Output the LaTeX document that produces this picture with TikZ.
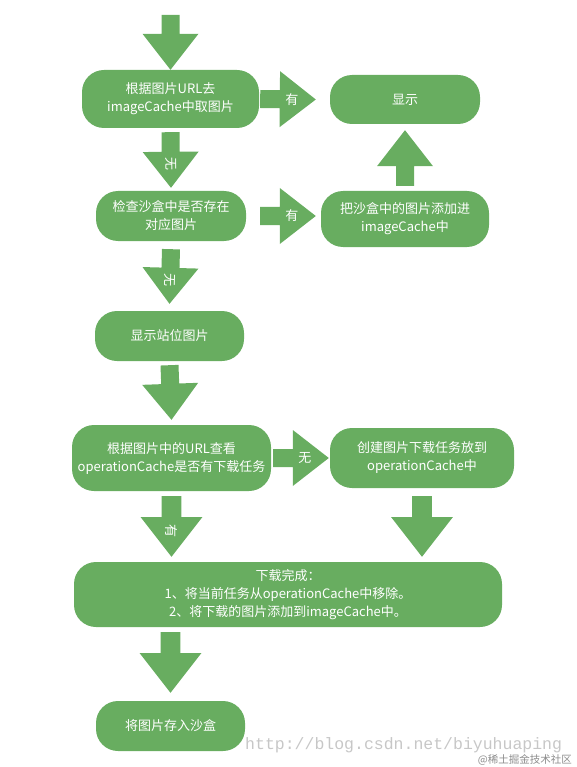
\documentclass[tikz,border=0pt]{standalone}
\usepackage{fontspec}
\setmainfont{Noto Sans CJK SC}
\newfontfamily\urlfont{Liberation Mono}
\usetikzlibrary{calc, positioning}
\definecolor{flowgreen}{RGB}{104,173,96}
\tikzstyle{stage} = [rectangle, rounded corners=22pt, fill=flowgreen, text=white, align=center, inner sep=0pt, font=\fontsize{13pt}{18pt}\selectfont]
\tikzstyle{flowlabel} = [text=white, inner sep=0pt, font=\fontsize{13pt}{15pt}\selectfont]
\tikzstyle{mark text} = [inner sep=0pt, text=black!22]

% block arrow: [size]{from}{tip}{label}
\newcommand{\flowarrow}[4][1]{%
  \fill[flowgreen] let \p1=(#2), \p2=(#3),
    \n1={atan2(\y2-\y1,\x2-\x1)}, \n2={veclen(\x2-\x1,\y2-\y1)},
    \n3={9pt*#1}, \n4={28pt*#1}, \n5={\n2-36pt*#1} in
    ($(\p1)+(\n1+90:\n3)$) -- ($(\p1)+(\n1:\n5)+(\n1+90:\n3)$)
    -- ($(\p1)+(\n1:\n5)+(\n1+90:\n4)$) -- (\p2)
    -- ($(\p1)+(\n1:\n5)+(\n1-90:\n4)$) -- ($(\p1)+(\n1:\n5)+(\n1-90:\n3)$)
    -- ($(\p1)+(\n1-90:\n3)$) -- cycle
    ($(\p1)!0.57!(\p2)$) node[flowlabel, rotate=\n1] {#4};}

\begin{document}
\begin{tikzpicture}[x=1pt, y=-1pt]
\useasboundingbox (0,0) rectangle (577,767);

% left column
\node[stage, minimum width=177pt, minimum height=58pt] (lookup) at (170.5,99) {根据图片URL去\\imageCache中取图片};
\node[stage, minimum width=150pt, minimum height=50pt] (check) at (171,216) {检查沙盒中是否存在\\对应图片};
\node[stage, minimum width=149pt, minimum height=50pt] (holder) at (169.5,336) {显示站位图片};
\node[stage, minimum width=199pt, minimum height=66pt] (query) at (171.5,458) {根据图片中的URL查看\\operationCache是否有下载任务};
\node[stage, minimum width=428pt, minimum height=65pt] (done) at (288,594.5) {下载完成：\\1、将当前任务从operationCache中移除。\\2、将下载的图片添加到imageCache中。};
\node[stage, minimum width=149pt, minimum height=50pt] (save) at (170.5,726) {将图片存入沙盒};

% right column
\node[stage, minimum width=150pt, minimum height=49pt] (show) at (405,99.5) {显示};
\node[stage, minimum width=168pt, minimum height=56pt] (copy) at (405,219) {把沙盒中的图片添加进\\imageCache中};
\node[stage, minimum width=184pt, minimum height=60pt] (create) at (422,458) {创建图片下载任务放到\\operationCache中};

\coordinate (entry) at (170.5,15);

% arrows
\flowarrow{entry}{lookup.north}{}
\flowarrow{$(lookup.east)+(1,0)$}{$(show.west)+(-14,0)$}{有}
\flowarrow{$(lookup.south)+(0,4)$}{$(check.north)+(0,-3)$}{无}
\flowarrow{$(check.east)+(14,0)$}{$(copy.west |- check.east)+(-5,0)$}{有}
\flowarrow{$(copy.north)+(0,-5)$}{$(show.south)+(0,6)$}{}
\flowarrow{$(check.south)+(0,8)$}{$(holder.north)+(0,-7)$}{无}
\flowarrow{$(holder.south)+(0,4)$}{$(query.north)+(0,-5)$}{}
\flowarrow{$(query.east)+(2,0)$}{$(create.west)+(-1,0)$}{无}
\flowarrow[1.1]{$(query.south)+(0,5)$}{$(query.south |- done.north)+(0,-5)$}{有}
\flowarrow[1.1]{$(create.south)+(0,8)$}{$(create.south |- done.north)+(0,-5)$}{}
\flowarrow[1.1]{$(save.north |- done.south)+(0,5)$}{$(save.north)+(0,-8)$}{}

% watermarks
\node[mark text, font=\urlfont\fontsize{16.5pt}{18pt}\selectfont, anchor=base west] (url) at (245,749) {http://blog.csdn.net/biyuhuaping};
\node[mark text, text=black!45, font=\fontsize{10.5pt}{12pt}\selectfont, anchor=east] (site) at (572,760) {@稀土掘金技术社区};
\end{tikzpicture}
\end{document}
